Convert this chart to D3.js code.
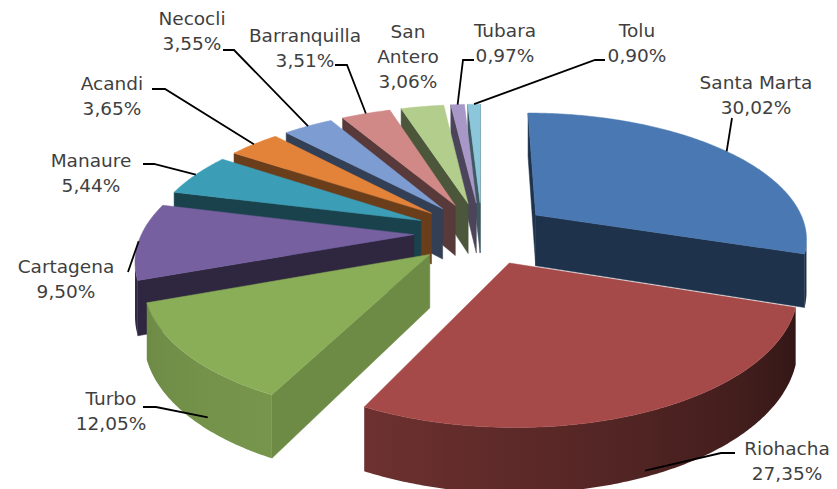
<!DOCTYPE html>
<meta charset="utf-8">
<script src="https://d3js.org/d3.v7.min.js"></script>
<style>
  body { margin: 0; background: #fff; }
  text { font-family: "DejaVu Sans", sans-serif; font-size: 18.5px; fill: #3f3f3f; }
</style>
<div id="pie3d"></div>
<script>

// data
var labels = ["Santa Marta", "Riohacha", "Turbo", "Cartagena", "Manaure", "Acandi",
              "Necocli", "Barranquilla", "San Antero", "Tubara", "Tolu"];
var shares = [30.02, 27.35, 12.05, 9.50, 5.44, 3.65, 3.55, 3.51, 3.06, 0.97, 0.90];

// colours (top face) and how dark the side faces are
var colors = ["#4a78b2", "#a54a48", "#8aae58", "#7660a0", "#3c9db6", "#e3833a",
              "#7d9dd2", "#d08987", "#b3cd8c", "#a898c8", "#8cc6da"];
var faceShade = [0.42, 0.45, 0.8, 0.4, 0.42, 0.47, 0.4, 0.42, 0.42, 0.45, 0.45];
var wallShade = [[0.4, 0.4], [0.3, 0.66], [0.86, 0.8], [0.42, 0.42], [0.45, 0.45], [0.5, 0.5],
                 [0.45, 0.45], [0.45, 0.45], [0.45, 0.45], [0.45, 0.45], [0.45, 0.45]];

// label layout
var labelLines = [["Santa Marta"], ["Riohacha"], ["Turbo"], ["Cartagena"], ["Manaure"], ["Acandi"],
                  ["Necocli"], ["Barranquilla"], ["San", "Antero"], ["Tubara"], ["Tolu"]];
var labelPos = [[756, 89], [787, 455], [111, 405], [66, 273], [91, 167], [112, 90],
                [192, 25], [305, 42], [408, 38], [505, 37], [637, 37]];
var leaderPts = [[[732, 118]], [[735, 453], [721, 453]], [[143, 407], [156, 407]], [[128, 272]],
                 [[143, 164], [154, 164]], [[152, 89], [165, 89]], [[223, 50], [234, 50]],
                 [[335, 65], [347, 65]], null, [[474, 60], [463, 60]], [[605, 60], [595, 60]]];
// where the leader touches the slice: fraction along the slice angle, fraction of the depth
var anchorSpec = [[0.5, 0], [0.5, 0.9], [0.35, 0.8], [0.5, 0], [0.5, 0], [0.5, 0],
                  [0.5, 0], [0.5, 0], [0.5, 0], [0.5, 0], [0.5, 0]];

var width = 837, height = 489;
var cx = 482, cy = 233, R = 272, U = 125, persp = 0.17, explode = 0.25, depth = 52;
var camZ = -1 / persp;

var svg = d3.select("#pie3d")
  .append("svg")
    .attr("width", width)
    .attr("height", height);
var defs = svg.append("defs");

var xs = d3.scaleLinear().domain([-1, 1]).range([cx - R, cx + R]);
var zs = d3.scaleLinear().domain([-1, 1]).range([cy + U, cy - U]);

function proj(p, h) {
  var s = 1 / (1 + persp * p[1]);
  return [xs(p[0] * s), zs(p[1] * s) + h * s];
}

function shade(c, k) {
  var r = d3.rgb(c);
  return d3.rgb(r.r * k, r.g * k, r.b * k).formatHex();
}

var line = d3.line();

var arcs = d3.pie().sort(null).value(function(d) { return d; })(shares);

var slices = arcs.map(function(a, i) {
  var m = (a.startAngle + a.endAngle) / 2;
  return { i: i, a0: a.startAngle, a1: a.endAngle, m: m,
           ox: explode * Math.sin(m), oz: explode * Math.cos(m) };
});

function rim(sl, t) {
  return [sl.ox + Math.sin(t), sl.oz + Math.cos(t)];
}

function wallVisible(sl, t) {
  var p = rim(sl, t);
  return (0 - p[0]) * Math.sin(t) + (camZ - p[1]) * Math.cos(t) > 0;
}

// back to front
var order = slices.slice().sort(function(a, b) { return b.oz - a.oz; });

var gPie = svg.append("g");

order.forEach(function(sl) {
  var g = gPie.append("g");
  var base = colors[sl.i];
  var apex = [sl.ox, sl.oz];
  var span = sl.a1 - sl.a0;

  // radial side faces
  [[sl.a0, -1], [sl.a1, 1]].forEach(function(f) {
    var t = f[0], sign = f[1];
    var nx = sign * Math.cos(t), nz = -sign * Math.sin(t);
    if ((0 - sl.ox) * nx + (camZ - sl.oz) * nz <= 0) return;
    var r = rim(sl, t);
    var c = shade(base, faceShade[sl.i]);
    g.append("path")
      .attr("d", line([proj(apex, 0), proj(r, 0), proj(r, depth), proj(apex, depth)]) + "Z")
      .attr("fill", c).attr("stroke", c).attr("stroke-width", 0.5);
  });

  // outer curved wall, drawn as runs of visible angles with a gradient
  var n = Math.max(4, Math.ceil(span / 0.01));
  var runs = [], cur = null;
  for (var k = 0; k <= n; k++) {
    var t = sl.a0 + span * k / n;
    if (wallVisible(sl, t)) {
      if (!cur) { cur = []; runs.push(cur); }
      cur.push(t);
    } else cur = null;
  }
  runs.forEach(function(run, ri) {
    if (run.length < 2) return;
    var top = run.map(function(t) { return proj(rim(sl, t), 0); });
    var bot = run.map(function(t) { return proj(rim(sl, t), depth); }).reverse();
    var w = wallShade[sl.i];
    var x0 = top[0][0], x1 = top[top.length - 1][0];
    var id = "wall" + sl.i + "_" + ri;
    var grad = defs.append("linearGradient")
      .attr("id", id)
      .attr("gradientUnits", "userSpaceOnUse")
      .attr("x1", x0).attr("y1", 0).attr("x2", x1).attr("y2", 0);
    var nStops = 8;
    for (var s = 0; s <= nStops; s++) {
      var idx = Math.round((run.length - 1) * s / nStops);
      var tt = run[idx];
      var off = Math.abs(x1 - x0) < 1 ? s / nStops : (top[idx][0] - x0) / (x1 - x0);
      grad.append("stop")
        .attr("offset", Math.max(0, Math.min(1, off)))
        .attr("stop-color", shade(base, w[0] + (w[1] - w[0]) * (tt - sl.a0) / span));
    }
    g.append("path")
      .attr("d", line(top.concat(bot)) + "Z")
      .attr("fill", "url(#" + id + ")");
  });

  // top face
  var pts = [proj(apex, 0)];
  var nt = Math.max(2, Math.ceil(span / 0.01));
  for (var j = 0; j <= nt; j++) {
    pts.push(proj(rim(sl, sl.a0 + span * j / nt), 0));
  }
  g.append("path")
    .attr("d", line(pts) + "Z")
    .attr("fill", base).attr("stroke", base).attr("stroke-width", 0.5);
});

// labels and leader lines
var gLab = svg.append("g");
slices.forEach(function(sl) {
  var i = sl.i;
  var pct = d3.format(".2f")(shares[i]).replace(".", ",") + "%";
  var rows = labelLines[i].concat([pct]);
  var t = gLab.append("text")
    .attr("text-anchor", "middle");
  rows.forEach(function(r, k) {
    t.append("tspan")
      .attr("x", labelPos[i][0])
      .attr("y", labelPos[i][1] + k * 25)
      .text(r);
  });

  if (leaderPts[i]) {
    var a = sl.a0 + (sl.a1 - sl.a0) * anchorSpec[i][0];
    var end = proj(rim(sl, a), depth * anchorSpec[i][1]);
    gLab.append("path")
      .attr("d", line(leaderPts[i].concat([end])))
      .attr("fill", "none")
      .attr("stroke", "#000")
      .attr("stroke-width", 1.8);
  }
});

</script>
